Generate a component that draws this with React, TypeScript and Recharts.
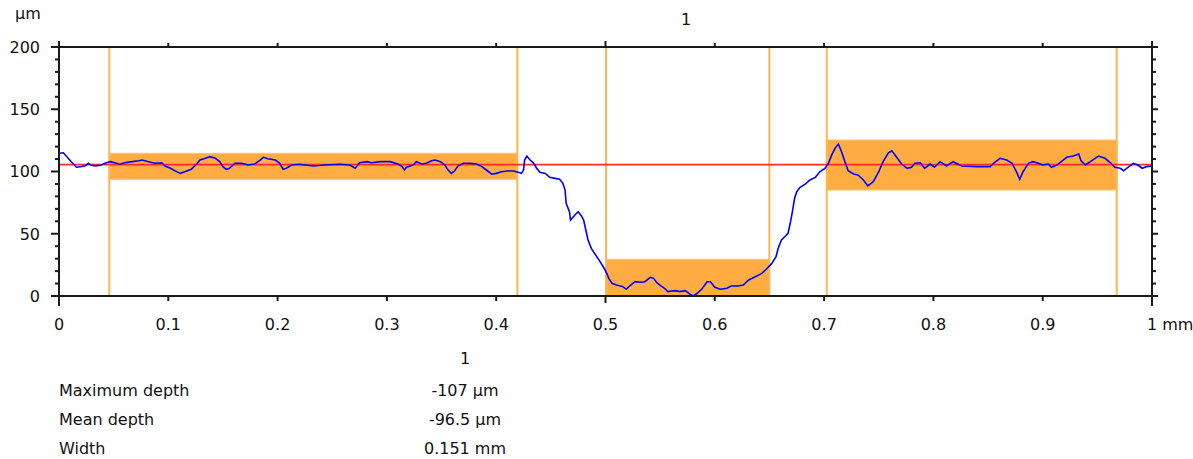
import React from 'react';
import {
  ComposedChart,
  Line,
  XAxis,
  YAxis,
  ReferenceArea,
  ReferenceLine,
} from 'recharts';

// profile: position (mm) / height (µm)
const profileX = [
  0, 0.004, 0.007, 0.011, 0.016, 0.021, 0.024, 0.027, 0.029, 0.033,
  0.038, 0.042, 0.047, 0.051, 0.056, 0.06, 0.067, 0.073, 0.076, 0.082,
  0.088, 0.094, 0.097, 0.102, 0.106, 0.111, 0.115, 0.121, 0.126, 0.129,
  0.134, 0.138, 0.143, 0.147, 0.15, 0.153, 0.156, 0.161, 0.167, 0.173,
  0.179, 0.184, 0.187, 0.191, 0.198, 0.202, 0.205, 0.208, 0.213, 0.219,
  0.225, 0.233, 0.243, 0.257, 0.266, 0.271, 0.275, 0.282, 0.286, 0.294,
  0.303, 0.31, 0.314, 0.316, 0.318, 0.324, 0.327, 0.332, 0.336, 0.341,
  0.344, 0.349, 0.353, 0.356, 0.359, 0.362, 0.365, 0.37, 0.376, 0.382,
  0.387, 0.391, 0.396, 0.4, 0.405, 0.41, 0.416, 0.42, 0.423, 0.425,
  0.426, 0.428, 0.431, 0.434, 0.437, 0.44, 0.445, 0.449, 0.454, 0.458,
  0.461, 0.463, 0.464, 0.467, 0.468, 0.472, 0.475, 0.478, 0.48, 0.482,
  0.484, 0.487, 0.492, 0.496, 0.5, 0.503, 0.506, 0.51, 0.516, 0.519,
  0.522, 0.527, 0.532, 0.536, 0.541, 0.544, 0.547, 0.551, 0.554, 0.557,
  0.564, 0.568, 0.573, 0.577, 0.58, 0.583, 0.588, 0.593, 0.596, 0.6,
  0.605, 0.611, 0.615, 0.621, 0.626, 0.631, 0.637, 0.643, 0.647, 0.652,
  0.656, 0.658, 0.661, 0.664, 0.667, 0.669, 0.671, 0.673, 0.675, 0.678,
  0.683, 0.687, 0.692, 0.696, 0.701, 0.704, 0.707, 0.71, 0.713, 0.716,
  0.719, 0.722, 0.727, 0.731, 0.736, 0.74, 0.745, 0.75, 0.754, 0.759,
  0.762, 0.766, 0.771, 0.776, 0.78, 0.783, 0.788, 0.792, 0.797, 0.801,
  0.806, 0.812, 0.818, 0.824, 0.826, 0.84, 0.852, 0.855, 0.861, 0.867,
  0.872, 0.876, 0.879, 0.882, 0.887, 0.891, 0.896, 0.9, 0.905, 0.908,
  0.913, 0.917, 0.922, 0.928, 0.933, 0.935, 0.939, 0.945, 0.951, 0.957,
  0.962, 0.966, 0.971, 0.974, 0.978, 0.983, 0.987, 0.991, 0.995, 1,
];
const profileY = [
  114.6, 115, 112, 108, 103.4, 104, 104.7, 106.6, 105.2, 104.4,
  105, 106.6, 107.9, 107, 105.8, 107, 107.9, 108.7, 109.2, 107.9,
  106.6, 107, 104.4, 102.6, 100.6, 98.5, 99.8, 101.8, 106, 109.2,
  110.6, 111.9, 110.6, 107.9, 103.9, 101.8, 102.6, 106.6, 106.6, 105.2,
  106, 109.2, 111.4, 110.3, 109.2, 106.6, 101.8, 102.6, 105.2, 105.8,
  105.2, 104.4, 105.2, 105.8, 105.2, 102.6, 107, 107.9, 107, 107.9,
  107.9, 106, 103.9, 101.2, 103.4, 105.2, 107.9, 106, 106.6, 108.7,
  109.2, 107.9, 105.2, 101.2, 98.5, 100.6, 104.4, 106.6, 106.6, 106,
  103.9, 101.2, 97.8, 98.5, 99.8, 100.4, 100.4, 99.4, 98.5, 101.2,
  109.2, 112.4, 109.2, 107, 102.6, 99.4, 98.5, 95.3, 94.5, 93.7,
  90.5, 85.1, 74.5, 67.7, 61, 65.1, 67.7, 64.3, 61, 53,
  45, 38.3, 31.6, 26.3, 20.3, 14.2, 10.2, 8.8, 7.5, 5.4,
  8, 11.5, 11, 11.5, 15, 14.2, 10.7, 8, 6.2, 3.5,
  4.3, 3.5, 4.3, 1.6, 0, 1.6, 5.4, 11.5, 11.5, 7,
  5.4, 6.2, 8, 8, 8.8, 12.9, 15.5, 18.2, 21.5, 26,
  31.6, 38.3, 45, 47.6, 50.4, 58.4, 67.7, 78.5, 83.8, 87.3,
  90, 93.2, 95.3, 99.8, 102.6, 106.6, 113.3, 118.6, 122.1, 115.9,
  107.9, 100.6, 98, 97.2, 93.2, 88.4, 91.8, 99.8, 107.9, 115.1,
  116.7, 111.9, 106, 102.6, 103.4, 106.6, 107, 102.6, 106, 103.4,
  107.9, 104.4, 107.9, 105.2, 104.4, 103.9, 103.9, 106.6, 110.6, 109.2,
  106.6, 99.8, 93.7, 99.8, 106.6, 107.9, 106.6, 105.2, 106, 103.4,
  105.2, 107.9, 111.4, 112.4, 114, 108.7, 105.2, 108.7, 112.4, 110.6,
  107, 103.4, 102.6, 100.6, 103.4, 106.6, 105.2, 102.6, 103.9, 104.4,
];

// cursor positions and the three measurement bands
const cursorX = [0.046, 0.4193, 0.5005, 0.6499, 0.7024, 0.9677];
const bandStart = [0.046, 0.5005, 0.7024];
const bandEnd = [0.4193, 0.6499, 0.9677];
const bandLow = [93.7, 0, 85.1];
const bandHigh = [114.6, 29.5, 125.3];
const meanLevel = 105.5;

const xTicks = [0, 0.1, 0.2, 0.3, 0.4, 0.5, 0.6, 0.7, 0.8, 0.9, 1];
const yTicks = [
  0, 10, 20, 30, 40, 50, 60, 70, 80, 90, 100, 110, 120, 130, 140, 150, 160,
  170, 180, 190, 200,
];

const resultTitle = '1';
const resultNames = ['Maximum depth', 'Mean depth', 'Width'];
const resultValues = ['-107 µm', '-96.5 µm', '0.151 mm'];

const AXIS = '#1a1a1a';
const FONT = '"DejaVu Sans", Verdana, sans-serif';

const data = profileX.map((x, i) => ({ x, y: profileY[i] }));

const isMajorX = (v: number) => v === 0 || v === 0.5 || v === 1;

const LeftTick = (props: any) => {
  const { x, y, payload } = props;
  const major = payload.value % 50 === 0;
  return (
    <g>
      <line x1={x - (major ? 8 : 4)} x2={x} y1={y} y2={y} stroke={AXIS} strokeWidth={2} />
      {major && (
        <text x={x - 19} y={y} dy="0.36em" textAnchor="end" fontSize={16} fontFamily={FONT} fill="#111">
          {payload.value}
        </text>
      )}
    </g>
  );
};

const RightTick = (props: any) => {
  const { x, y, payload } = props;
  const major = payload.value % 50 === 0;
  return <line x1={x} x2={x + (major ? 6 : 4)} y1={y} y2={y} stroke={AXIS} strokeWidth={2} />;
};

const BottomTick = (props: any) => {
  const { x, y, payload } = props;
  const v = payload.value;
  const len = v === 0 || v === 1 ? 10 : v === 0.5 ? 7 : 5;
  return (
    <g>
      <line x1={x} x2={x} y1={y} y2={y + len} stroke={AXIS} strokeWidth={2} />
      <text
        x={v === 1 ? x - 5 : x}
        y={y + 34}
        textAnchor={v === 1 ? 'start' : 'middle'}
        fontSize={16}
        fontFamily={FONT}
        fill="#111"
      >
        {v === 1 ? '1 mm' : v}
      </text>
    </g>
  );
};

const TopTick = (props: any) => {
  const { x, y, payload } = props;
  const len = isMajorX(payload.value) ? 6 : 4;
  return <line x1={x} x2={x} y1={y} y2={y - len} stroke={AXIS} strokeWidth={2} />;
};

const txt: React.CSSProperties = {
  position: 'absolute',
  fontFamily: FONT,
  fontSize: 16,
  lineHeight: '16px',
  color: '#111',
  whiteSpace: 'nowrap',
};

export default function App() {
  return (
    <div style={{ position: 'absolute', left: 0, top: 0, width: 1193, height: 459, background: '#fff' }}>
      <div style={{ ...txt, left: 15, top: 6 }}>µm</div>
      <div style={{ ...txt, left: 636, width: 100, textAlign: 'center', top: 12 }}>1</div>

      <ComposedChart
        width={1193}
        height={340}
        data={data}
        margin={{ top: 46, right: 40, bottom: 14, left: 9 }}
      >
        <XAxis
          xAxisId="b"
          dataKey="x"
          type="number"
          domain={[0, 1]}
          ticks={xTicks}
          interval={0}
          height={30}
          axisLine={{ stroke: AXIS, strokeWidth: 2 }}
          tickLine={false}
          tickSize={0}
          tickMargin={0}
          tick={<BottomTick />}
          allowDataOverflow
        />
        <XAxis
          xAxisId="t"
          orientation="top"
          dataKey="x"
          type="number"
          domain={[0, 1]}
          ticks={xTicks}
          interval={0}
          height={1}
          axisLine={{ stroke: AXIS, strokeWidth: 2 }}
          tickLine={false}
          tickSize={0}
          tickMargin={0}
          tick={<TopTick />}
          allowDataOverflow
        />
        <YAxis
          yAxisId="l"
          type="number"
          domain={[0, 200]}
          ticks={yTicks}
          interval={0}
          width={50}
          axisLine={{ stroke: AXIS, strokeWidth: 2 }}
          tickLine={false}
          tickSize={0}
          tickMargin={0}
          tick={<LeftTick />}
          allowDataOverflow
        />
        <YAxis
          yAxisId="r"
          orientation="right"
          type="number"
          domain={[0, 200]}
          ticks={yTicks}
          interval={0}
          width={1}
          axisLine={{ stroke: AXIS, strokeWidth: 2 }}
          tickLine={false}
          tickSize={0}
          tickMargin={0}
          tick={<RightTick />}
          allowDataOverflow
        />

        {bandStart.map((x1, i) => (
          <ReferenceArea
            key={`band-${i}`}
            xAxisId="b"
            yAxisId="l"
            x1={x1}
            x2={bandEnd[i]}
            y1={bandLow[i]}
            y2={bandHigh[i]}
            fill="#ffad42"
            fillOpacity={1}
            stroke="#ffc47a"
            strokeWidth={1}
            ifOverflow="visible"
          />
        ))}
        {cursorX.map((x, i) => (
          <ReferenceLine
            key={`cursor-${i}`}
            xAxisId="b"
            yAxisId="l"
            x={x}
            stroke="#ffb54f"
            strokeWidth={2}
          />
        ))}
        <ReferenceLine xAxisId="b" yAxisId="l" y={meanLevel} stroke="#ff2b2b" strokeWidth={1.8} />

        <Line
          xAxisId="b"
          yAxisId="l"
          type="linear"
          dataKey="y"
          stroke="#0000ff"
          strokeWidth={1.6}
          dot={false}
          isAnimationActive={false}
        />
      </ComposedChart>

      <div style={{ ...txt, left: 365, width: 200, textAlign: 'center', top: 351 }}>{resultTitle}</div>
      {resultNames.map((name, i) => (
        <React.Fragment key={name}>
          <div style={{ ...txt, left: 59, top: 383 + i * 29 }}>{name}</div>
          <div style={{ ...txt, left: 365, width: 200, textAlign: 'center', top: 383 + i * 29 }}>
            {resultValues[i]}
          </div>
        </React.Fragment>
      ))}
    </div>
  );
}
